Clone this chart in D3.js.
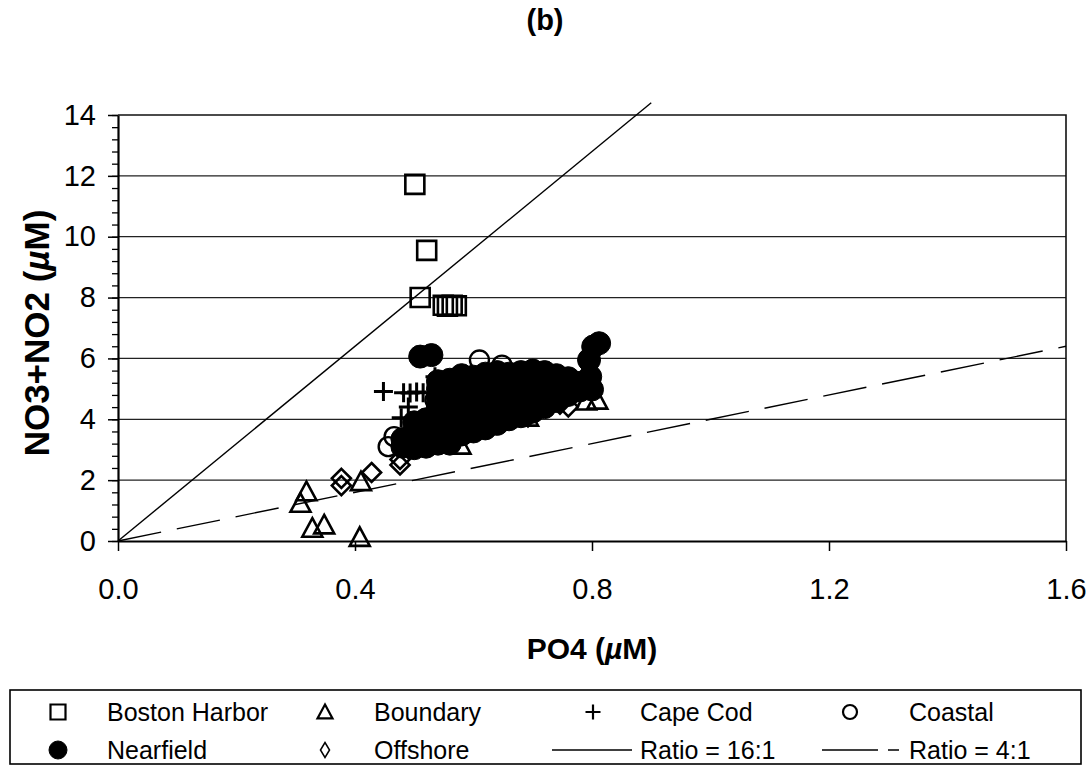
<!DOCTYPE html>
<html>
<head>
<meta charset="utf-8">
<script src="https://cdn.jsdelivr.net/npm/d3@7"></script>
<style>
  body { margin: 0; background: #fff; }
  svg { display: block; font-family: Arial, "Liberation Sans", Helvetica, sans-serif; }
</style>
</head>
<body>
<svg id="chart" width="1091" height="765"></svg>
<script>
// NO3+NO2 versus PO4 by station group, with Redfield-type ratio lines.
// Each point is [PO4 (uM), NO3+NO2 (uM)].
const bostonHarbor = [
  [0.501, 11.72], [0.521, 9.55], [0.510, 8.00],
  [0.549, 7.75], [0.556, 7.72], [0.564, 7.75], [0.571, 7.73]
];
const boundary = [
  [0.318, 1.62], [0.308, 1.24], [0.328, 0.42], [0.348, 0.53], [0.408, 0.12],
  [0.410, 1.95], [0.578, 3.15], [0.692, 4.07], [0.790, 4.60], [0.809, 4.63]
];
const capeCod = [
  [0.448, 4.91], [0.482, 4.87], [0.493, 4.86], [0.504, 4.90], [0.515, 4.87],
  [0.535, 5.40], [0.478, 4.05], [0.490, 4.40]
];
const coastal = [
  [0.610, 5.95], [0.648, 5.78], [0.456, 3.10], [0.466, 3.43], [0.535, 4.63]
];
const nearfield = [
  [0.510, 6.06], [0.529, 6.11], [0.812, 6.50], [0.802, 6.39], [0.795, 5.95],
  [0.797, 5.40], [0.800, 4.98],
  [0.480, 3.10], [0.480, 3.35],
  [0.500, 3.05], [0.500, 3.30], [0.500, 3.60], [0.500, 3.90],
  [0.520, 3.10], [0.520, 3.40], [0.520, 3.70], [0.520, 4.00],
  [0.540, 3.20], [0.540, 3.50], [0.540, 3.80], [0.540, 4.10], [0.540, 4.40], [0.540, 4.70], [0.540, 5.00], [0.540, 5.25],
  [0.560, 3.20], [0.560, 3.50], [0.560, 3.80], [0.560, 4.10], [0.560, 4.40], [0.560, 4.70], [0.560, 5.00], [0.560, 5.30],
  [0.580, 3.50], [0.580, 3.80], [0.580, 4.10], [0.580, 4.40], [0.580, 4.70], [0.580, 5.00], [0.580, 5.30], [0.580, 5.45],
  [0.600, 3.60], [0.600, 3.90], [0.600, 4.20], [0.600, 4.50], [0.600, 4.80], [0.600, 5.10], [0.600, 5.40],
  [0.620, 3.70], [0.620, 4.00], [0.620, 4.30], [0.620, 4.60], [0.620, 4.90], [0.620, 5.20], [0.620, 5.50],
  [0.640, 3.85], [0.640, 4.15], [0.640, 4.45], [0.640, 4.75], [0.640, 5.05], [0.640, 5.35], [0.640, 5.55],
  [0.660, 4.00], [0.660, 4.30], [0.660, 4.60], [0.660, 4.90], [0.660, 5.20], [0.660, 5.50],
  [0.680, 4.10], [0.680, 4.40], [0.680, 4.70], [0.680, 5.00], [0.680, 5.30], [0.680, 5.55],
  [0.700, 4.25], [0.700, 4.55], [0.700, 4.85], [0.700, 5.15], [0.700, 5.45], [0.700, 5.60],
  [0.720, 4.40], [0.720, 4.70], [0.720, 5.00], [0.720, 5.30], [0.720, 5.55],
  [0.740, 4.60], [0.740, 4.90], [0.740, 5.20], [0.740, 5.45],
  [0.760, 4.80], [0.760, 5.10], [0.760, 5.35],
  [0.780, 4.95], [0.780, 5.20]
];
const offshore = [
  [0.377, 2.06], [0.377, 1.82], [0.428, 2.25], [0.476, 2.50], [0.476, 2.68],
  [0.740, 4.70], [0.760, 4.41], [0.746, 4.50], [0.692, 4.08]
];
const ratioLines = [
  { name: "Ratio = 16:1", slope: 16, xEnd: 0.9, dash: null },
  { name: "Ratio = 4:1", slope: 4, xEnd: 1.6, dash: "44,16" }
];
const xTickValues = [0, 0.4, 0.8, 1.2, 1.6];
const yTickValues = [0, 2, 4, 6, 8, 10, 12, 14];
const yMinorValues = d3.range(0, 14.01, 0.4);

const svg = d3.select("#chart");
svg.append("rect").attr("width", 1091).attr("height", 765).attr("fill", "#fff");

const x = d3.scaleLinear().domain([0, 1.6]).range([118, 1066]);
const y = d3.scaleLinear().domain([0, 14]).range([541, 115]);

// gridlines
svg.append("g").selectAll("line").data([2, 4, 6, 8, 10, 12]).join("line")
  .attr("x1", x(0)).attr("x2", x(1.6))
  .attr("y1", d => y(d)).attr("y2", d => y(d))
  .attr("stroke", "#222").attr("stroke-width", 1.3);

// plot frame (top and right)
svg.append("path")
  .attr("d", `M${x(0)},${y(14)}H${x(1.6)}V${y(0)}`)
  .attr("fill", "none").attr("stroke", "#111").attr("stroke-width", 1.6);

// marker shapes
function shape(type, s) {
  const h = s / 2;
  switch (type) {
    case "square": return `M${-h},${-h}H${h}V${h}H${-h}Z`;
    case "triangle": return `M0,${-h}L${h},${h * 0.85}H${-h}Z`;
    case "diamond": return `M0,${-h}L${h},0L0,${h}L${-h},0Z`;
    case "plus": return `M${-h},0H${h}M0,${-h}V${h}`;
    case "circle": return d3.arc()({ innerRadius: 0, outerRadius: h, startAngle: 0, endAngle: 2 * Math.PI });
  }
}

const series = [
  { name: "Boston Harbor", data: bostonHarbor, type: "square", size: 19, filled: false, sw: 2.6 },
  { name: "Boundary", data: boundary, type: "triangle", size: 20, filled: false, sw: 2.6 },
  { name: "Cape Cod", data: capeCod, type: "plus", size: 19, filled: false, sw: 3 },
  { name: "Coastal", data: coastal, type: "circle", size: 19, filled: false, sw: 2.4 },
  { name: "Nearfield", data: nearfield, type: "circle", size: 23, filled: true, sw: 1 },
  { name: "Offshore", data: offshore, type: "diamond", size: 19, filled: false, sw: 2.6 }
];

series.forEach(s => {
  svg.append("g").selectAll("path").data(s.data).join("path")
    .attr("transform", d => `translate(${x(d[0])},${y(d[1])})`)
    .attr("d", shape(s.type, s.size))
    .attr("fill", s.filled ? "#000" : "none")
    .attr("stroke", "#000")
    .attr("stroke-width", s.sw);
});

// ratio lines
svg.append("g").selectAll("line").data(ratioLines).join("line")
  .attr("x1", x(0)).attr("y1", y(0))
  .attr("x2", d => x(d.xEnd)).attr("y2", d => y(d.slope * d.xEnd))
  .attr("stroke", "#000").attr("stroke-width", 1.4)
  .attr("stroke-dasharray", d => d.dash);

// axes
const yMinor = svg.append("g").attr("transform", `translate(${x(0)},0)`)
  .call(d3.axisLeft(y).tickValues(yMinorValues).tickSize(6).tickFormat(""));
yMinor.select(".domain").remove();
yMinor.selectAll("line").attr("stroke", "#000").attr("stroke-width", 1.3);

const yAxis = svg.append("g").attr("transform", `translate(${x(0)},0)`)
  .call(d3.axisLeft(y).tickValues(yTickValues).tickSize(10).tickSizeOuter(0).tickPadding(12).tickFormat(d3.format("d")));
yAxis.select(".domain").attr("stroke", "#000").attr("stroke-width", 2.2);
yAxis.selectAll("line").attr("stroke", "#000").attr("stroke-width", 1.5);
yAxis.selectAll("text").attr("font-size", 29).attr("fill", "#000");

const xAxis = svg.append("g").attr("transform", `translate(0,${y(0)})`)
  .call(d3.axisBottom(x).tickValues(xTickValues).tickSize(10).tickSizeOuter(0).tickPadding(27).tickFormat(d3.format(".1f")));
xAxis.select(".domain").attr("stroke", "#000").attr("stroke-width", 2.2);
xAxis.selectAll("line").attr("stroke", "#000").attr("stroke-width", 1.5);
xAxis.selectAll("text").attr("font-size", 29).attr("fill", "#000");

// titles
svg.append("text").attr("x", 545).attr("y", 30).attr("text-anchor", "middle")
  .attr("font-size", 29).attr("font-weight", "bold").text("(b)");

const xt = svg.append("text").attr("x", 592).attr("y", 659).attr("text-anchor", "middle")
  .attr("font-size", 30).attr("font-weight", "bold");
xt.append("tspan").text("PO4 (");
xt.append("tspan").attr("font-style", "italic").text("\u00b5");
xt.append("tspan").text("M)");

const yt = svg.append("text").attr("transform", "translate(49,333) rotate(-90)").attr("text-anchor", "middle")
  .attr("font-size", 35).attr("font-weight", "bold");
yt.append("tspan").text("NO3+NO2 (");
yt.append("tspan").attr("font-style", "italic").text("\u00b5");
yt.append("tspan").text("M)");

// legend
const legend = svg.append("g");
legend.append("rect").attr("x", 10).attr("y", 690).attr("width", 1071).attr("height", 74)
  .attr("fill", "none").attr("stroke", "#000").attr("stroke-width", 1.6);

const legendItems = [
  { series: series[0], mx: 58, tx: 107, row: 0 },
  { series: series[1], mx: 325, tx: 374, row: 0 },
  { series: series[2], mx: 593, tx: 640, row: 0 },
  { series: series[3], mx: 850, tx: 909, row: 0 },
  { series: series[4], mx: 58, tx: 107, row: 1 },
  { series: series[5], mx: 325, tx: 374, row: 1 }
];
const rowY = [712, 750];
legendItems.forEach(it => {
  const s = it.series;
  const size = s.type === "circle" && s.filled ? 18 : (s.type === "circle" ? 14 : 15);
  legend.append("path")
    .attr("transform", `translate(${it.mx},${rowY[it.row]})` + (s.type === "diamond" ? " scale(0.6,1)" : ""))
    .attr("d", shape(s.type, size))
    .attr("fill", s.filled ? "#000" : "none")
    .attr("stroke", "#000").attr("stroke-width", s.filled ? 1 : 2.2);
  legend.append("text").attr("x", it.tx).attr("y", rowY[it.row]).attr("dy", "0.36em")
    .attr("font-size", 25).text(s.name);
});
// ratio line keys
legend.append("line").attr("x1", 552).attr("x2", 632).attr("y1", rowY[1]).attr("y2", rowY[1])
  .attr("stroke", "#000").attr("stroke-width", 1.3);
legend.append("text").attr("x", 640).attr("y", rowY[1]).attr("dy", "0.36em").attr("font-size", 25).text(ratioLines[0].name);
legend.append("line").attr("x1", 822).attr("x2", 899).attr("y1", rowY[1]).attr("y2", rowY[1])
  .attr("stroke", "#000").attr("stroke-width", 1.3).attr("stroke-dasharray", "56,10");
legend.append("text").attr("x", 909).attr("y", rowY[1]).attr("dy", "0.36em").attr("font-size", 25).text(ratioLines[1].name);
</script>
</body>
</html>
